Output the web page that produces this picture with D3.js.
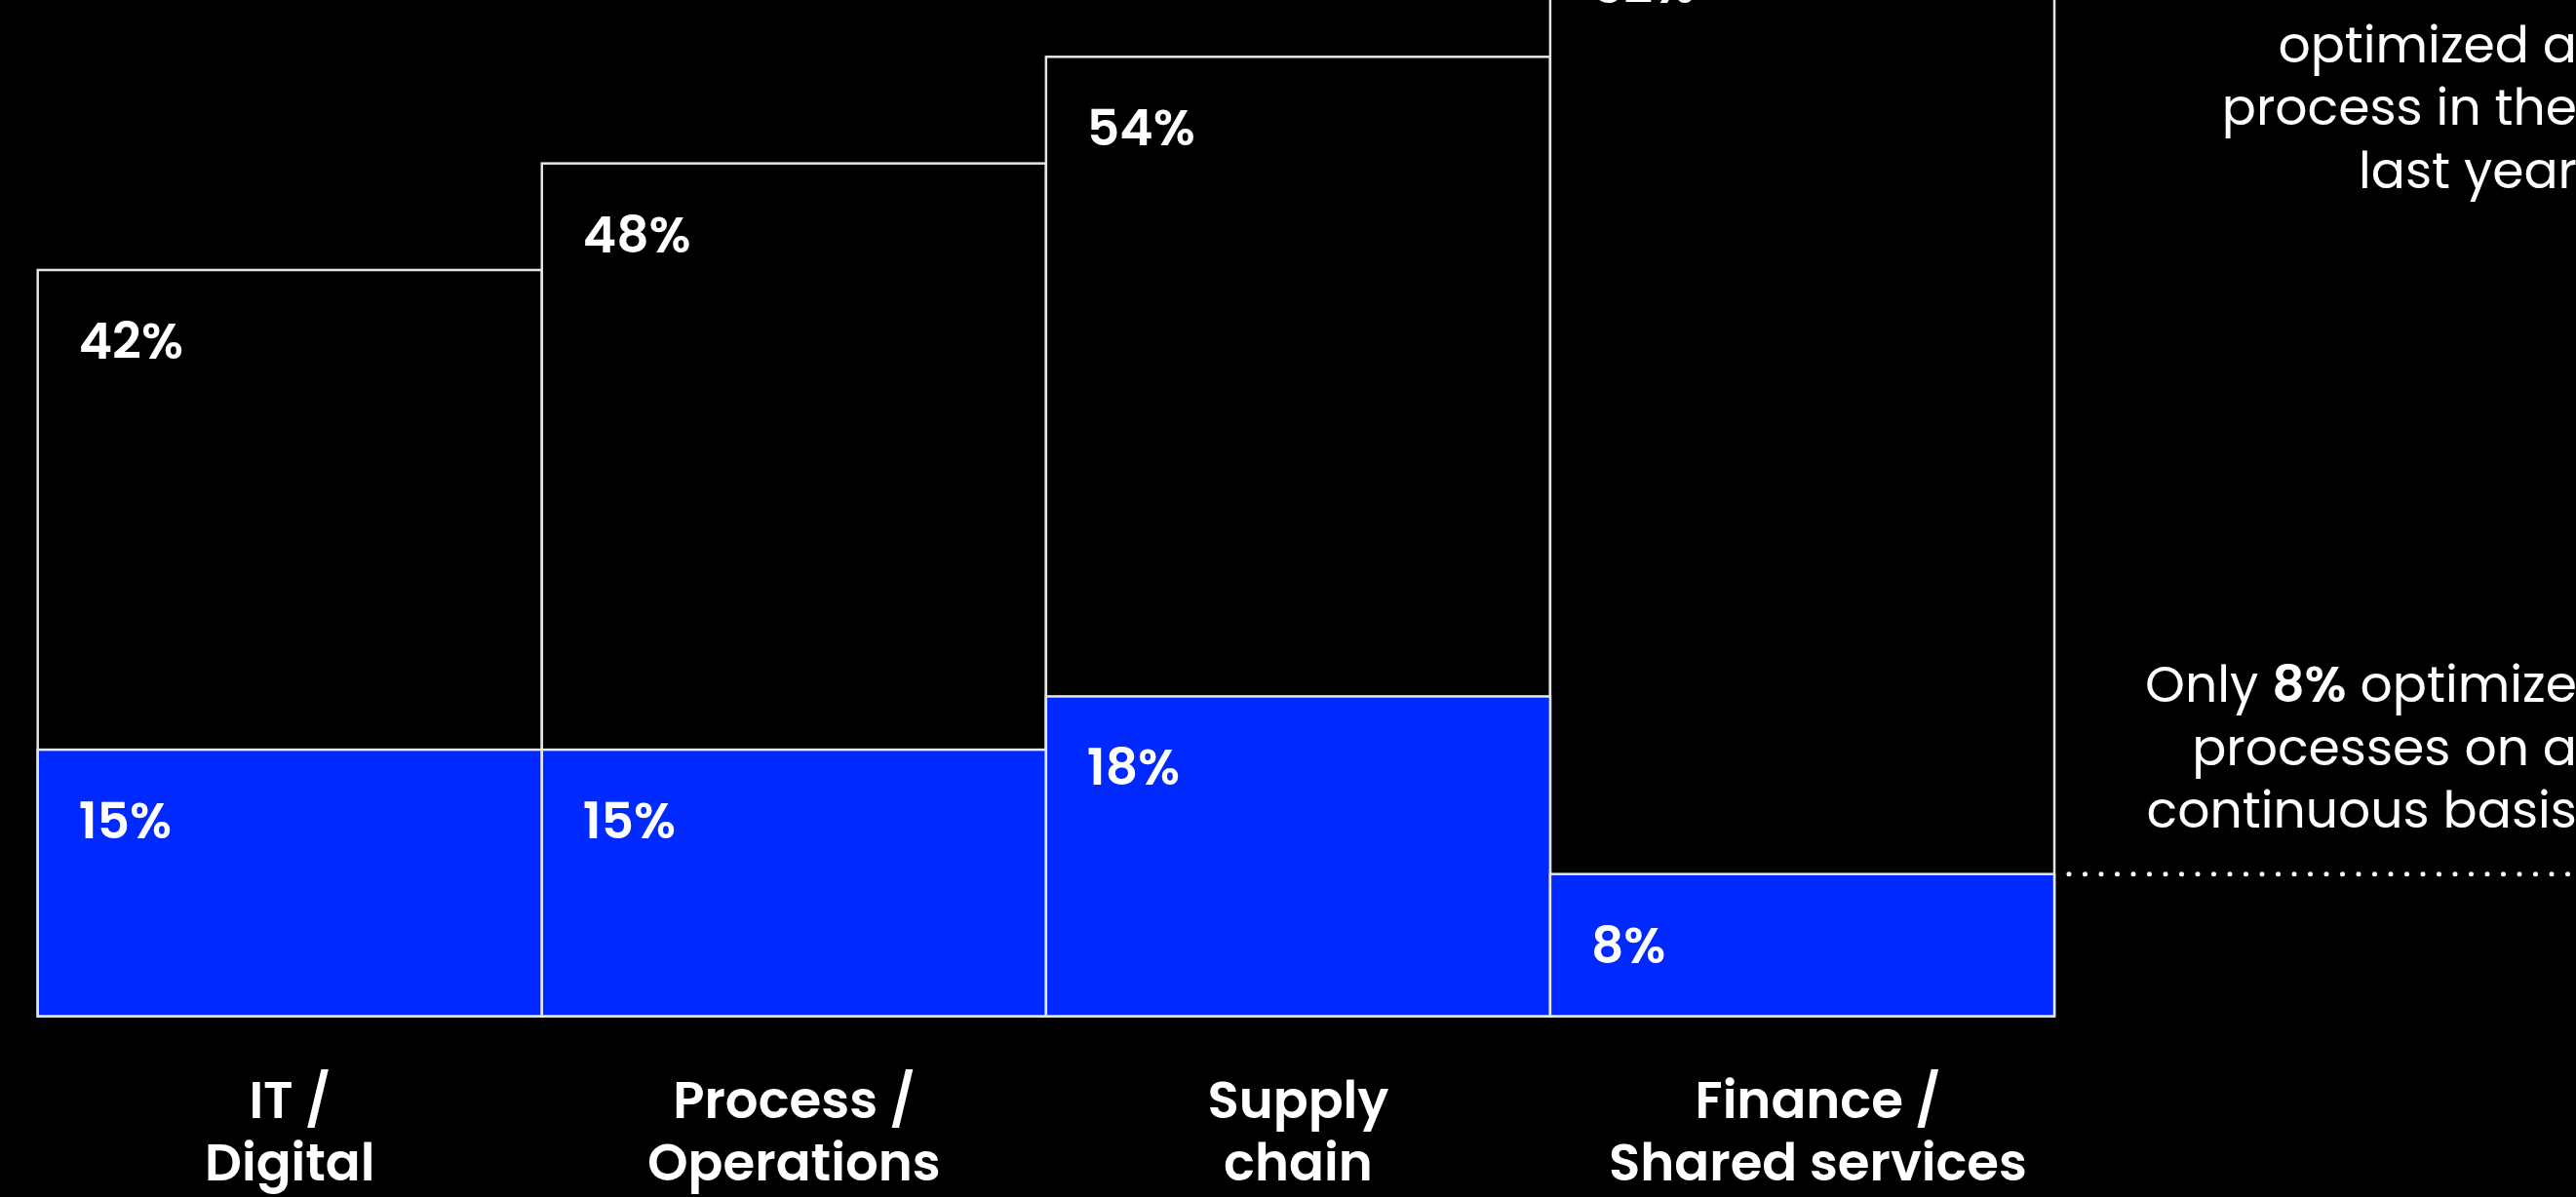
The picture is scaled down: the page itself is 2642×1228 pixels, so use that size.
<!DOCTYPE html>
<html>
<head>
<meta charset="utf-8">
<script src="https://cdn.jsdelivr.net/npm/d3@7"></script>
<style>
  body { margin: 0; background: #000; overflow: hidden; }
  text { font-family: Poppins, Inter, "Noto Sans", sans-serif; fill: #fff; }
</style>
</head>
<body>
<div class="canvas"></div>
<script>
const dims = { width: 2642, height: 1228 };

// data
const categories = ['IT / Digital', 'Process / Operations', 'Supply chain', 'Finance / Shared services'];
const catLines = [['IT /', 'Digital'], ['Process /', 'Operations'], ['Supply', 'chain'], ['Finance /', 'Shared services']];
const lastYear = [42, 48, 54, 62];     // optimized a process in the last year
const continuous = [15, 15, 18, 8];    // optimize on a continuous basis
const noteTop = [['62%', ' have'], ['', 'optimized a'], ['', 'process in the'], ['', 'last year']];
const noteBottom = [['Only ', '8%', ' optimize'], ['', '', 'processes on a'], ['', '', 'continuous basis']];

const svg = d3.select('.canvas')
  .append('svg')
  .attr('width', dims.width)
  .attr('height', dims.height);

// scales
const x = d3.scaleBand()
  .domain(categories)
  .range([38.7, 2107])
  .padding(0);

const y = d3.scaleLinear()
  .domain([0, 42])
  .range([1042.5, 277]);

const colour = { total: '#000', cont: '#0029ff', line: '#e6e6e6' };

// black bars (last year)
svg.append('g').selectAll('rect')
  .data(lastYear)
  .enter().append('rect')
    .attr('x', (d, i) => x(categories[i]))
    .attr('y', d => y(d))
    .attr('width', x.bandwidth())
    .attr('height', d => y(0) - y(d))
    .attr('fill', colour.total)
    .attr('stroke', colour.line)
    .attr('stroke-width', 2.5);

// blue bars (continuous)
svg.append('g').selectAll('rect')
  .data(continuous)
  .enter().append('rect')
    .attr('x', (d, i) => x(categories[i]))
    .attr('y', d => y(d))
    .attr('width', x.bandwidth())
    .attr('height', d => y(0) - y(d))
    .attr('fill', colour.cont)
    .attr('stroke', colour.line)
    .attr('stroke-width', 2.5);

// value labels
const labelPad = 42, labelDrop = 91;
const valueLabels = (data) => {
  svg.append('g').selectAll('text')
    .data(data)
    .enter().append('text')
      .attr('x', (d, i) => x(categories[i]) + labelPad)
      .attr('y', d => y(d) + labelDrop)
      .attr('font-size', 52)
      .attr('font-weight', 600)
      .text(d => d + '%');
};
valueLabels(lastYear);
valueLabels(continuous);

// category labels (last one sits a touch right in the original)
const catShift = i => i === 3 ? 16 : 0;
const cats = svg.append('g').selectAll('text')
  .data(catLines)
  .enter().append('text')
    .attr('x', (d, i) => x(categories[i]) + x.bandwidth() / 2 + catShift(i))
    .attr('y', 1147)
    .attr('text-anchor', 'middle')
    .attr('font-size', 53)
    .attr('font-weight', 600);

cats.selectAll('tspan')
  .data(d => d)
  .enter().append('tspan')
    .attr('x', function() { return this.parentNode.getAttribute('x'); })
    .attr('dy', (d, i) => i === 0 ? 0 : 64)
    .text(d => d);

// annotations on the right
const noteX = 2643;
const note = (lines, baseY) => {
  const t = svg.append('text')
    .attr('x', noteX)
    .attr('y', baseY)
    .attr('text-anchor', 'end')
    .attr('font-size', 52)
    .attr('font-weight', 400);
  lines.forEach((parts, i) => {
    let first = true;
    parts.forEach((p, j) => {
      if (!p) return;
      const s = t.append('tspan').text(p);
      if (first) { s.attr('x', noteX).attr('dy', i === 0 ? 0 : 64.5); first = false; }
      // the percentage piece is bold
      if (/%$/.test(p)) s.attr('font-weight', 600);
    });
  });
};
note(noteTop, -1);
note(noteBottom, 720);

// dotted guide at the finance continuous level
svg.append('line')
  .attr('x1', x(categories[3]) + x.bandwidth() + 15)
  .attr('x2', dims.width + 10)
  .attr('y1', y(continuous[3]))
  .attr('y2', y(continuous[3]))
  .attr('stroke', '#fff')
  .attr('stroke-width', 5)
  .attr('stroke-linecap', 'round')
  .attr('stroke-dasharray', '0 16.5');
</script>
</body>
</html>
